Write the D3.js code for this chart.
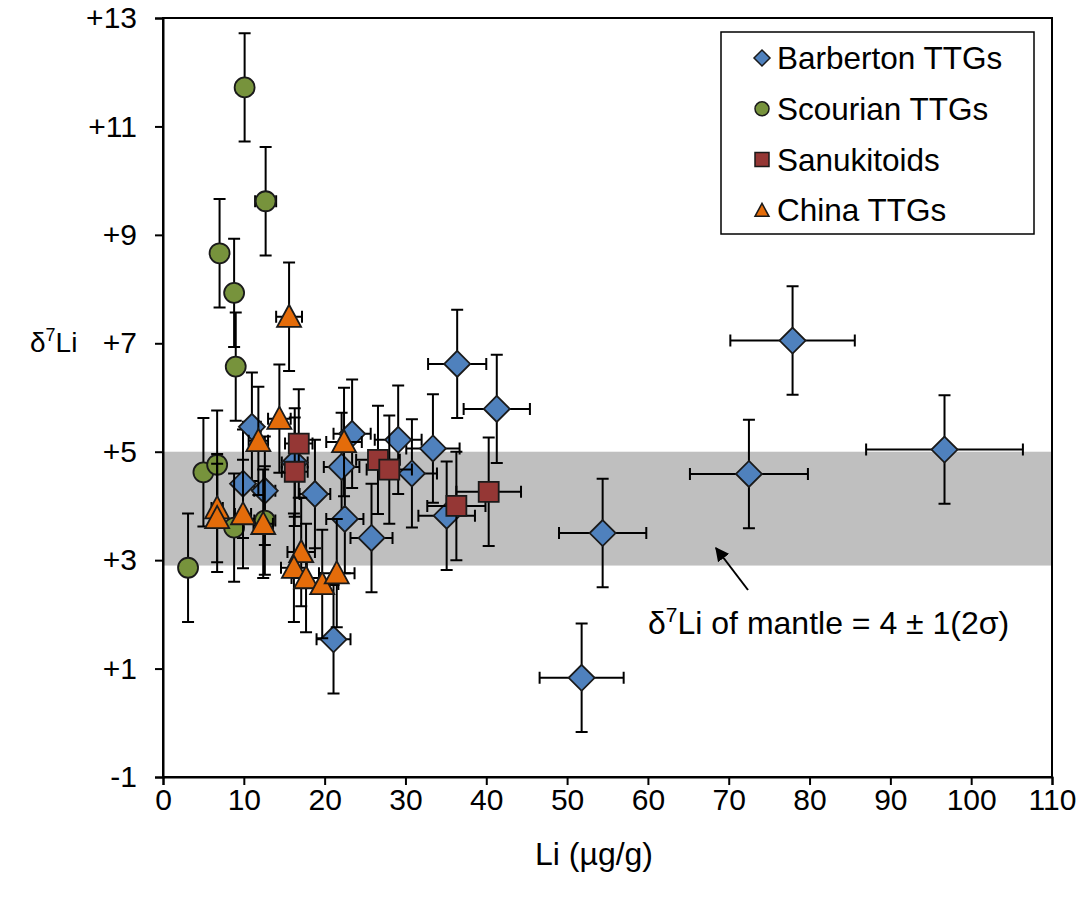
<!DOCTYPE html>
<html>
<head>
<meta charset="utf-8">
<script src="https://cdn.jsdelivr.net/npm/d3@7"></script>
<style>
  html, body { margin: 0; padding: 0; background: #fff; }
  svg { display: block; font-family: "Liberation Sans", Arial, sans-serif; }
</style>
</head>
<body>
<svg id="chart" width="1091" height="899"></svg>
<script>
// Li concentration (µg/g), δ7Li (‰) and their uncertainties for each suite
const barbertonLi   = [36.4, 41.3, 77.9, 96.7, 72.5, 54.4, 51.8, 11.0, 9.9, 12.6, 23.4, 22.1, 18.8, 22.5, 16.3, 25.8, 21.1, 29.1, 33.4, 30.8, 35.1];
const barbertonD7   = [6.62, 5.79, 7.05, 5.04, 4.59, 3.50, 0.83, 5.46, 4.41, 4.28, 5.33, 4.72, 4.22, 3.76, 4.80, 3.41, 1.54, 5.22, 5.06, 4.60, 3.82];
const barbertonLiErr = [3.6, 4.1, 7.7, 9.7, 7.3, 5.4, 5.2, 1.1, 1.0, 1.3, 2.3, 2.2, 1.9, 2.3, 1.6, 2.6, 2.1, 2.9, 3.3, 3.1, 3.5];
const barbertonD7Err = [1, 1, 1, 1, 1, 1, 1, 1, 1, 1, 1, 1, 1, 1, 1, 1, 1, 1, 1, 1, 1];

const scourianLi    = [3.1, 5.0, 6.7, 8.8, 7.0, 8.8, 9.0, 10.1, 12.7, 12.6];
const scourianD7    = [2.86, 4.62, 4.76, 3.60, 8.66, 7.93, 6.57, 11.72, 9.62, 3.73];
const scourianLiErr = [0.3, 0.5, 0.7, 0.9, 0.7, 0.9, 0.9, 1.0, 1.3, 1.3];
const scourianD7Err = [1, 1, 1, 1, 1, 1, 1, 1, 1, 1];

const sanukitoidLi    = [16.8, 16.3, 26.6, 28.0, 36.3, 40.3];
const sanukitoidD7    = [5.15, 4.63, 4.85, 4.67, 4.00, 4.26];
const sanukitoidLiErr = [1.7, 1.6, 2.7, 2.8, 3.6, 4.0];
const sanukitoidD7Err = [1, 1, 1, 1, 1, 1];

const chinaLi    = [15.6, 14.4, 11.8, 22.4, 6.7, 6.7, 9.9, 12.4, 17.1, 16.2, 17.7, 19.7, 21.5];
const chinaD7    = [7.49, 5.61, 5.20, 5.18, 3.96, 3.78, 3.85, 3.67, 3.15, 2.86, 2.67, 2.56, 2.76];
const chinaLiErr = [1.6, 1.4, 1.2, 2.2, 0.7, 0.7, 1.0, 1.2, 1.7, 1.6, 1.8, 2.0, 2.2];
const chinaD7Err = [1, 1, 1, 1, 1, 1, 1, 1, 1, 1, 1, 1, 1];

// mantle δ7Li range shown as a shaded band
const mantleBand = [2.9, 5.0];

const seriesNames = ["Barberton TTGs", "Scourian TTGs", "Sanukitoids", "China TTGs"];
const xTicks = [0, 10, 20, 30, 40, 50, 60, 70, 80, 90, 100, 110];
const yTicks = [-1, 1, 3, 5, 7, 9, 11, 13];
const yTickLabels = ["-1", "+1", "+3", "+5", "+7", "+9", "+11", "+13"];

const svg = d3.select("#chart");
const plotLeft = 163, plotRight = 1052, plotTop = 18, plotBottom = 777;

const x = d3.scaleLinear().domain([0, 110]).range([plotLeft, plotRight]);
const y = d3.scaleLinear().domain([-1, 13]).range([plotBottom, plotTop]);

// shaded mantle band
svg.append("rect")
  .attr("x", x(0)).attr("width", x(110) - x(0))
  .attr("y", y(mantleBand[1])).attr("height", y(mantleBand[0]) - y(mantleBand[1]))
  .attr("fill", "#bfbfbf");

// plot frame
svg.append("rect")
  .attr("x", plotLeft).attr("y", plotTop).attr("width", plotRight - plotLeft).attr("height", plotBottom - plotTop)
  .attr("fill", "none").attr("stroke", "#000").attr("stroke-width", 2);

// axes
const xAxis = svg.append("g").attr("transform", `translate(0,${plotBottom})`)
  .call(d3.axisBottom(x).tickValues(xTicks).tickSize(8).tickPadding(4).tickFormat(d3.format("d")));
const yAxis = svg.append("g").attr("transform", `translate(${plotLeft},0)`)
  .call(d3.axisLeft(y).tickValues(yTicks).tickSize(8).tickPadding(18)
    .tickFormat((d, i) => yTickLabels[i]));
[xAxis, yAxis].forEach(g => {
  g.select(".domain").attr("stroke", "#000").attr("stroke-width", 2);
  g.selectAll(".tick line").attr("stroke", "#000").attr("stroke-width", 2);
  g.selectAll(".tick text").attr("fill", "#000")
    .style("font-size", "30px").style("font-family", "'Liberation Sans', Arial, sans-serif");
});

// axis titles
svg.append("text").attr("x", 594).attr("y", 865)
  .attr("text-anchor", "middle").style("font-size", "32px")
  .text("Li (µg/g)");
const yTitle = svg.append("text").attr("x", 30).attr("y", 352).style("font-size", "28px");
yTitle.append("tspan").text("δ");
yTitle.append("tspan").attr("dy", -11).style("font-size", "18px").text("7");
yTitle.append("tspan").attr("dy", 11).text("Li");

// series definitions
const colors = ["#4f81bd", "#77933c", "#953735", "#e46c0a"];
const shapes = ["diamond", "circle", "square", "triangle"];
const sizes = [13, 10, 10, 12]; // half-extent in px
const groups = [
  [barbertonLi, barbertonD7, barbertonLiErr, barbertonD7Err],
  [scourianLi, scourianD7, scourianLiErr, scourianD7Err],
  [sanukitoidLi, sanukitoidD7, sanukitoidLiErr, sanukitoidD7Err],
  [chinaLi, chinaD7, chinaLiErr, chinaD7Err]
];

function markerPath(shape, r) {
  if (shape === "diamond") return `M0,${-r}L${r},0L0,${r}L${-r},0Z`;
  if (shape === "square") return `M${-r},${-r}H${r}V${r}H${-r}Z`;
  if (shape === "triangle") return `M0,${-r}L${r},${r * 0.85}L${-r},${r * 0.85}Z`;
  return d3.arc()({ innerRadius: 0, outerRadius: r, startAngle: 0, endAngle: 2 * Math.PI });
}

const cap = 6;
groups.forEach((arrs, si) => {
  const [lis, d7s, lErr, dErr] = arrs;
  const pts = lis.map((v, i) => ({ li: v, d7: d7s[i], ex: lErr[i], ey: dErr[i] }));
  const g = svg.append("g");
  const eb = g.append("g").attr("stroke", "#000").attr("stroke-width", 2).attr("fill", "none");
  pts.forEach(p => {
    const cx = x(p.li), cy = y(p.d7);
    const x0 = x(p.li - p.ex), x1 = x(p.li + p.ex);
    const y0 = y(p.d7 - p.ey), y1 = y(p.d7 + p.ey);
    eb.append("path").attr("d",
      `M${x0},${cy}H${x1}M${x0},${cy - cap}V${cy + cap}M${x1},${cy - cap}V${cy + cap}` +
      `M${cx},${y0}V${y1}M${cx - cap},${y0}H${cx + cap}M${cx - cap},${y1}H${cx + cap}`);
  });
  g.selectAll("path.mark").data(pts).join("path").attr("class", "mark")
    .attr("transform", p => `translate(${x(p.li)},${y(p.d7)})`)
    .attr("d", markerPath(shapes[si], sizes[si]))
    .attr("fill", colors[si]).attr("stroke", "#1a1a1a").attr("stroke-width", 1.8);
});

// legend
const lg = svg.append("g");
lg.append("rect").attr("x", 721).attr("y", 32).attr("width", 313).attr("height", 202)
  .attr("fill", "#fff").attr("stroke", "#000").attr("stroke-width", 1.5);
seriesNames.forEach((name, i) => {
  const cy = 58 + i * 50.8;
  lg.append("path").attr("transform", `translate(762,${cy})`)
    .attr("d", markerPath(shapes[i], shapes[i] === "diamond" ? 8 : 7))
    .attr("fill", colors[i]).attr("stroke", "#1a1a1a").attr("stroke-width", 1.5);
  lg.append("text").attr("x", 777).attr("y", cy + 11).style("font-size", "31.5px").text(name);
});

// mantle annotation with arrow
const defs = svg.append("defs");
defs.append("marker").attr("id", "arrowHead").attr("viewBox", "0 0 10 10")
  .attr("refX", 9).attr("refY", 5).attr("markerWidth", 7).attr("markerHeight", 7)
  .attr("markerUnits", "strokeWidth")
  .attr("orient", "auto")
  .append("path").attr("d", "M0,0L10,5L0,10Z").attr("fill", "#000");
svg.append("line").attr("x1", 748).attr("y1", 590).attr("x2", 716).attr("y2", 548)
  .attr("stroke", "#000").attr("stroke-width", 2).attr("marker-end", "url(#arrowHead)");
const ann = svg.append("text").attr("x", 648).attr("y", 634).style("font-size", "32px");
ann.append("tspan").text("δ");
ann.append("tspan").attr("dy", -12).style("font-size", "21px").text("7");
ann.append("tspan").attr("dy", 12).text("Li of mantle = 4 ± 1(2σ)");
</script>
</body>
</html>
